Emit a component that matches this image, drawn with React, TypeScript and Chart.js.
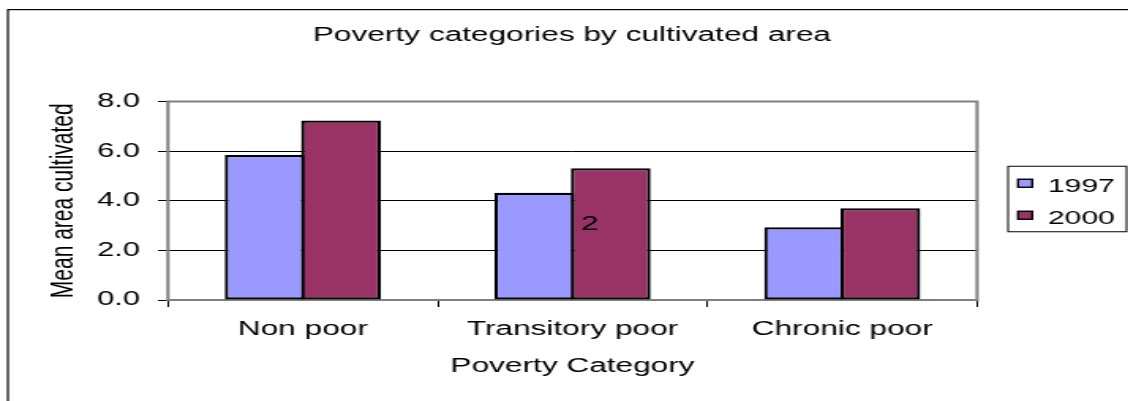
import React, { useEffect, useRef } from 'react';
import { Chart, registerables } from 'chart.js';

Chart.register(...registerables);

// ---- data ----
const chartTitle = 'Poverty categories by cultivated area';
const categories = ['Non poor', 'Transitory poor', 'Chronic poor'];
const seriesNames = ['1997', '2000'];
const values1997 = [5.84, 4.32, 2.93];
const values2000 = [7.23, 5.31, 3.7];
const seriesColors = ['#9999FF', '#993366'];
const yMin = 0;
const yMax = 8;
const yStep = 2;
const yAxisTitle = 'Mean area cultivated';
const xAxisTitle = 'Poverty Category';
// stray text label sitting on a bar in the original
const strayLabelText = ['2'];
const strayLabelCategory = [1];
const strayLabelSeries = [1];
const strayLabelValue = [3.06];

// ---- presentation ----
const FONT = '"Liberation Sans", Arial, Helvetica, sans-serif';
const STRETCH = 1.58; // original picture is horizontally stretched
const W = 714;
const H = 401;

const framePlugin = {
  id: 'frame',
  beforeDraw(chart: any) {
    const { ctx } = chart;
    ctx.save();
    ctx.fillStyle = '#fff';
    ctx.fillRect(0, 0, chart.width, chart.height);
    ctx.strokeStyle = '#000';
    ctx.lineWidth = 1.2;
    ctx.strokeRect(5, 9.6, chart.width + 50, chart.height + 50);
    ctx.restore();
  },
  beforeDatasetsDraw(chart: any) {
    const { ctx, chartArea } = chart;
    ctx.save();
    ctx.strokeStyle = '#808080';
    ctx.lineWidth = 2;
    ctx.strokeRect(
      chartArea.left,
      chartArea.top,
      chartArea.right - chartArea.left,
      chartArea.bottom - chartArea.top
    );
    ctx.restore();
  },
  afterDraw(chart: any) {
    const { ctx, chartArea } = chart;
    // stray labels
    ctx.save();
    ctx.fillStyle = '#000';
    ctx.font = `20px ${FONT}`;
    ctx.textBaseline = 'middle';
    ctx.textAlign = 'left';
    strayLabelText.forEach((t, i) => {
      const meta = chart.getDatasetMeta(strayLabelSeries[i]);
      const bar: any = meta.data[strayLabelCategory[i]];
      if (!bar) return;
      const y = chart.scales.y.getPixelForValue(strayLabelValue[i]);
      ctx.fillText(t, bar.x - bar.width / 2 + 6.5, y);
    });
    ctx.restore();

    // legend
    const left = chartArea.right + 19.6;
    const top = (chartArea.top + chartArea.bottom) / 2 - 34.5;
    ctx.save();
    ctx.strokeStyle = '#000';
    ctx.lineWidth = 1;
    ctx.strokeRect(left, top, 75, 65.5);
    ctx.font = `19px ${FONT}`;
    ctx.textBaseline = 'alphabetic';
    ctx.textAlign = 'left';
    chart.data.datasets.forEach((ds: any, i: number) => {
      const my = top + 13 + i * 32;
      ctx.fillStyle = ds.backgroundColor;
      ctx.fillRect(left + 6.3, my, 9, 8);
      ctx.lineWidth = 1.4;
      ctx.strokeStyle = '#000';
      ctx.strokeRect(left + 6.3, my, 9, 8);
      ctx.fillStyle = '#000';
      ctx.fillText(ds.label, left + 25.3, top + 25.4 + i * 32);
    });
    ctx.restore();
  },
};

export default function App() {
  const canvasRef = useRef<HTMLCanvasElement | null>(null);

  useEffect(() => {
    document.body.style.margin = '0';
    const canvas = canvasRef.current;
    if (!canvas) return;
    const barStyle = {
      borderColor: '#000',
      borderWidth: 2.2,
      borderSkipped: false,
      categoryPercentage: 0.566,
      barPercentage: 1.045,
    };
    const chart = new Chart(canvas, {
      type: 'bar',
      data: {
        labels: categories,
        datasets: [
          {
            label: seriesNames[0],
            data: values1997,
            backgroundColor: seriesColors[0],
            ...barStyle,
          },
          {
            label: seriesNames[1],
            data: values2000,
            backgroundColor: seriesColors[1],
            ...barStyle,
          },
        ],
      },
      options: {
        responsive: false,
        animation: false,
        devicePixelRatio: 1,
        color: '#000',
        layout: { padding: { left: 10, right: 0, top: 0, bottom: 21 } },
        plugins: {
          legend: { display: false },
          tooltip: { enabled: false },
          title: {
            display: true,
            text: chartTitle,
            color: '#000',
            font: { family: FONT, size: 20, weight: 'normal' },
            padding: { top: 23.4, bottom: 54.1 },
          },
        },
        scales: {
          x: {
            offset: true,
            border: { display: false },
            grid: {
              display: true,
              offset: true,
              drawOnChartArea: false,
              drawTicks: true,
              tickLength: 7,
              color: '#000',
              lineWidth: 1,
            },
            ticks: {
              color: '#000',
              font: { family: FONT, size: 20 },
              padding: 10.8,
              autoSkip: false,
              maxRotation: 0,
            },
            title: {
              display: true,
              text: xAxisTitle,
              color: '#000',
              font: { family: FONT, size: 20 },
              padding: { top: 0, bottom: 2 },
            },
            afterFit(scale: any) {
              scale.height = 80;
            },
          },
          y: {
            min: yMin,
            max: yMax,
            border: { display: false },
            grid: {
              color: '#000',
              lineWidth: 1,
              drawTicks: true,
              tickLength: 6.3,
            },
            ticks: {
              stepSize: yStep,
              color: '#000',
              font: { family: FONT, size: 19.5 },
              padding: 11.4,
              callback: (v: any) => Number(v).toFixed(1),
            },
            title: {
              display: true,
              text: yAxisTitle,
              color: '#000',
              font: { family: FONT, size: 21 },
              padding: { top: 17.6, bottom: 0 },
            },
            afterFit(scale: any) {
              scale.width = 96.3;
            },
          },
          // empty right-hand band that leaves room for the legend box
          legendSpace: {
            type: 'linear',
            position: 'right',
            display: true,
            grid: { display: false, drawTicks: false },
            border: { display: false },
            ticks: { display: false },
            afterFit(scale: any) {
              scale.width = W - 618.4;
            },
          },
        },
      } as any,
      plugins: [framePlugin],
    });
    return () => chart.destroy();
  }, []);

  return (
    <div style={{ width: 1128, height: H, overflow: 'hidden', background: '#fff' }}>
      <div
        style={{
          width: W,
          height: H,
          transform: `scaleX(${STRETCH})`,
          transformOrigin: '0 0',
        }}
      >
        <canvas ref={canvasRef} width={W} height={H} />
      </div>
    </div>
  );
}
